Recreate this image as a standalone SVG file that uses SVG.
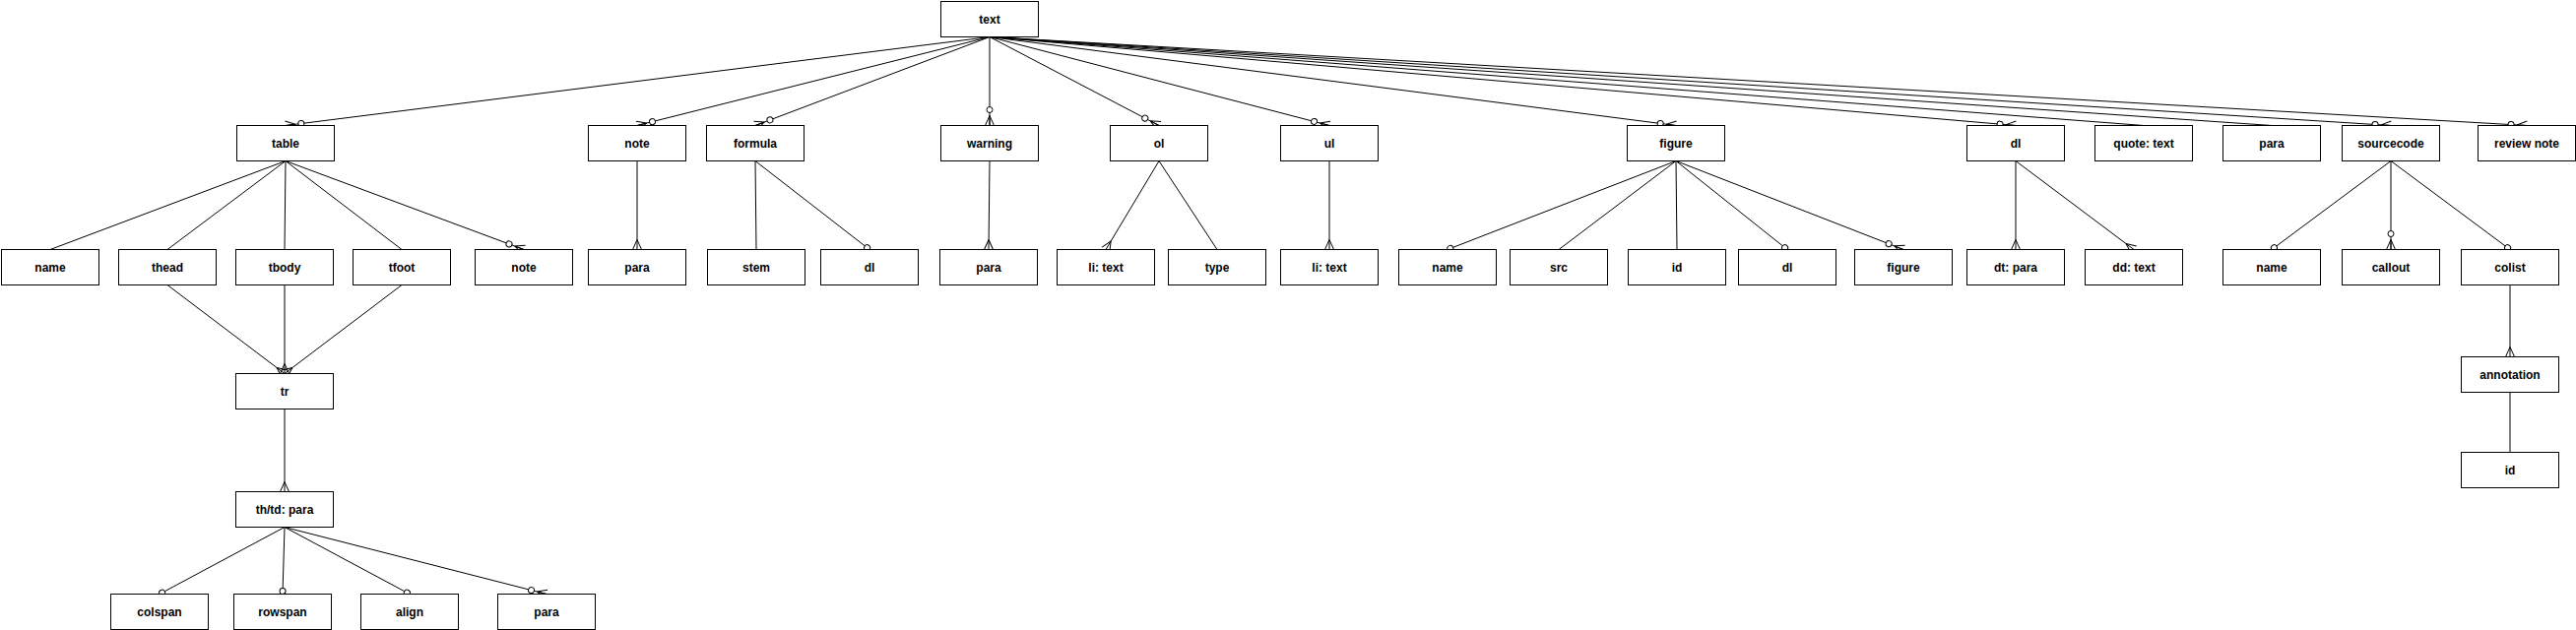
<svg xmlns="http://www.w3.org/2000/svg" width="2616" height="640" viewBox="0 0 2616 640">
<style>
  .box{fill:#fff;stroke:#000;stroke-width:1}
  .lbl{font-family:"Liberation Sans",Arial,Helvetica,sans-serif;font-size:12px;font-weight:bold;text-anchor:middle;fill:#000}
  .e{fill:none;stroke:#000;stroke-width:1}
  .zm{marker-end:url(#zeroMany)}
  .mn{marker-end:url(#many)}
  .ov{marker-end:url(#oval)}
</style>
<defs>
  <marker id="zeroMany" viewBox="-22 -7 24 14" refX="0" refY="0" markerWidth="24" markerHeight="14" markerUnits="userSpaceOnUse" orient="auto" overflow="visible">
    <path d="M-10,0 L0,-4.5 M-10,0 L0,4.5 M-10,0 L0,0" fill="none" stroke="#000" stroke-width="1"/>
    <circle cx="-16" cy="0" r="3" fill="#fff" stroke="#000" stroke-width="1"/>
  </marker>
  <marker id="many" viewBox="-12 -7 14 14" refX="0" refY="0" markerWidth="14" markerHeight="14" markerUnits="userSpaceOnUse" orient="auto" overflow="visible">
    <path d="M-10,0 L0,-4.5 M-10,0 L0,4.5" fill="none" stroke="#000" stroke-width="1"/>
  </marker>
  <marker id="oval" viewBox="-8 -5 10 10" refX="0" refY="0" markerWidth="10" markerHeight="10" markerUnits="userSpaceOnUse" orient="auto" overflow="visible">
    <circle cx="-3" cy="0" r="3" fill="#fff" stroke="#000" stroke-width="1"/>
  </marker>
</defs>
<rect x="0" y="0" width="2616" height="640" fill="#fff"/>
<g transform="translate(0.5,0.5)">
<g id="connectors">
  <path class="e zm" d="M1004.5,37 L289.5,127"/>
  <path class="e zm" d="M1004.5,37 L646.5,127"/>
  <path class="e zm" d="M1004.5,37 L766.5,127"/>
  <path class="e zm" d="M1004.5,37 L1004.5,127"/>
  <path class="e zm" d="M1004.5,37 L1176.5,127"/>
  <path class="e zm" d="M1004.5,37 L1349.5,127"/>
  <path class="e zm" d="M1004.5,37 L1701.5,127"/>
  <path class="e zm" d="M1004.5,37 L2046.5,127"/>
  <path class="e" d="M1004.5,37 L2176.5,127"/>
  <path class="e" d="M1004.5,37 L2306.5,127"/>
  <path class="e zm" d="M1004.5,37 L2427.5,127"/>
  <path class="e zm" d="M1004.5,37 L2565.5,127"/>

  <path class="e" d="M289.5,163 L50.5,253"/>
  <path class="e" d="M289.5,163 L169.5,253"/>
  <path class="e" d="M289.5,163 L288.5,253"/>
  <path class="e" d="M289.5,163 L407.5,253"/>
  <path class="e zm" d="M289.5,163 L531.5,253"/>
  <path class="e mn" d="M169.5,289 L288.5,379"/>
  <path class="e mn" d="M288.5,289 L288.5,379"/>
  <path class="e mn" d="M407.5,289 L288.5,379"/>
  <path class="e mn" d="M288.5,415 L288.5,499"/>
  <path class="e ov" d="M288.5,535 L161.5,603"/>
  <path class="e ov" d="M288.5,535 L286.5,603"/>
  <path class="e ov" d="M288.5,535 L415.5,603"/>
  <path class="e zm" d="M288.5,535 L554.5,603"/>

  <path class="e mn" d="M646.5,163 L646.5,253"/>
  <path class="e" d="M766.5,163 L767.5,253"/>
  <path class="e ov" d="M766.5,163 L882.5,253"/>
  <path class="e mn" d="M1004.5,163 L1003.5,253"/>
  <path class="e mn" d="M1176.5,163 L1122.5,253"/>
  <path class="e" d="M1176.5,163 L1235.5,253"/>
  <path class="e mn" d="M1349.5,163 L1349.5,253"/>
  <path class="e ov" d="M1701.5,163 L1469.5,253"/>
  <path class="e" d="M1701.5,163 L1582.5,253"/>
  <path class="e" d="M1701.5,163 L1702.5,253"/>
  <path class="e ov" d="M1701.5,163 L1814.5,253"/>
  <path class="e zm" d="M1701.5,163 L1932.5,253"/>
  <path class="e mn" d="M2046.5,163 L2046.5,253"/>
  <path class="e mn" d="M2046.5,163 L2166.5,253"/>
  <path class="e ov" d="M2427.5,163 L2306.5,253"/>
  <path class="e zm" d="M2427.5,163 L2427.5,253"/>
  <path class="e ov" d="M2427.5,163 L2548.5,253"/>
  <path class="e mn" d="M2548.5,289 L2548.5,362"/>
  <path class="e" d="M2548.5,398 L2548.5,459"/>
</g>

<g id="n-text"><rect class="box" x="955" y="1" width="99" height="36"/><text class="lbl" x="1004.5" y="23">text</text></g>

<g id="n-table"><rect class="box" x="240" y="127" width="99" height="36"/><text class="lbl" x="289.5" y="149">table</text></g>
<g id="n-note"><rect class="box" x="597" y="127" width="99" height="36"/><text class="lbl" x="646.5" y="149">note</text></g>
<g id="n-formula"><rect class="box" x="717" y="127" width="99" height="36"/><text class="lbl" x="766.5" y="149">formula</text></g>
<g id="n-warning"><rect class="box" x="955" y="127" width="99" height="36"/><text class="lbl" x="1004.5" y="149">warning</text></g>
<g id="n-ol"><rect class="box" x="1127" y="127" width="99" height="36"/><text class="lbl" x="1176.5" y="149">ol</text></g>
<g id="n-ul"><rect class="box" x="1300" y="127" width="99" height="36"/><text class="lbl" x="1349.5" y="149">ul</text></g>
<g id="n-figure"><rect class="box" x="1652" y="127" width="99" height="36"/><text class="lbl" x="1701.5" y="149">figure</text></g>
<g id="n-dl"><rect class="box" x="1997" y="127" width="99" height="36"/><text class="lbl" x="2046.5" y="149">dl</text></g>
<g id="n-quote"><rect class="box" x="2127" y="127" width="99" height="36"/><text class="lbl" x="2176.5" y="149">quote: text</text></g>
<g id="n-para-top"><rect class="box" x="2257" y="127" width="99" height="36"/><text class="lbl" x="2306.5" y="149">para</text></g>
<g id="n-sourcecode"><rect class="box" x="2378" y="127" width="99" height="36"/><text class="lbl" x="2427.5" y="149">sourcecode</text></g>
<g id="n-review-note"><rect class="box" x="2516" y="127" width="99" height="36"/><text class="lbl" x="2565.5" y="149">review note</text></g>

<g id="n-table-name"><rect class="box" x="1" y="253" width="99" height="36"/><text class="lbl" x="50.5" y="275">name</text></g>
<g id="n-thead"><rect class="box" x="120" y="253" width="99" height="36"/><text class="lbl" x="169.5" y="275">thead</text></g>
<g id="n-tbody"><rect class="box" x="239" y="253" width="99" height="36"/><text class="lbl" x="288.5" y="275">tbody</text></g>
<g id="n-tfoot"><rect class="box" x="358" y="253" width="99" height="36"/><text class="lbl" x="407.5" y="275">tfoot</text></g>
<g id="n-table-note"><rect class="box" x="482" y="253" width="99" height="36"/><text class="lbl" x="531.5" y="275">note</text></g>
<g id="n-note-para"><rect class="box" x="597" y="253" width="99" height="36"/><text class="lbl" x="646.5" y="275">para</text></g>
<g id="n-stem"><rect class="box" x="718" y="253" width="99" height="36"/><text class="lbl" x="767.5" y="275">stem</text></g>
<g id="n-formula-dl"><rect class="box" x="833" y="253" width="99" height="36"/><text class="lbl" x="882.5" y="275">dl</text></g>
<g id="n-warning-para"><rect class="box" x="954" y="253" width="99" height="36"/><text class="lbl" x="1003.5" y="275">para</text></g>
<g id="n-ol-li"><rect class="box" x="1073" y="253" width="99" height="36"/><text class="lbl" x="1122.5" y="275">li: text</text></g>
<g id="n-type"><rect class="box" x="1186" y="253" width="99" height="36"/><text class="lbl" x="1235.5" y="275">type</text></g>
<g id="n-ul-li"><rect class="box" x="1300" y="253" width="99" height="36"/><text class="lbl" x="1349.5" y="275">li: text</text></g>
<g id="n-figure-name"><rect class="box" x="1420" y="253" width="99" height="36"/><text class="lbl" x="1469.5" y="275">name</text></g>
<g id="n-src"><rect class="box" x="1533" y="253" width="99" height="36"/><text class="lbl" x="1582.5" y="275">src</text></g>
<g id="n-figure-id"><rect class="box" x="1653" y="253" width="99" height="36"/><text class="lbl" x="1702.5" y="275">id</text></g>
<g id="n-figure-dl"><rect class="box" x="1765" y="253" width="99" height="36"/><text class="lbl" x="1814.5" y="275">dl</text></g>
<g id="n-figure-figure"><rect class="box" x="1883" y="253" width="99" height="36"/><text class="lbl" x="1932.5" y="275">figure</text></g>
<g id="n-dt"><rect class="box" x="1997" y="253" width="99" height="36"/><text class="lbl" x="2046.5" y="275">dt: para</text></g>
<g id="n-dd"><rect class="box" x="2117" y="253" width="99" height="36"/><text class="lbl" x="2166.5" y="275">dd: text</text></g>
<g id="n-source-name"><rect class="box" x="2257" y="253" width="99" height="36"/><text class="lbl" x="2306.5" y="275">name</text></g>
<g id="n-callout"><rect class="box" x="2378" y="253" width="99" height="36"/><text class="lbl" x="2427.5" y="275">callout</text></g>
<g id="n-colist"><rect class="box" x="2499" y="253" width="99" height="36"/><text class="lbl" x="2548.5" y="275">colist</text></g>

<g id="n-tr"><rect class="box" x="239" y="379" width="99" height="36"/><text class="lbl" x="288.5" y="401">tr</text></g>
<g id="n-thtd"><rect class="box" x="239" y="499" width="99" height="36"/><text class="lbl" x="288.5" y="521">th/td: para</text></g>
<g id="n-colspan"><rect class="box" x="112" y="603" width="99" height="36"/><text class="lbl" x="161.5" y="625">colspan</text></g>
<g id="n-rowspan"><rect class="box" x="237" y="603" width="99" height="36"/><text class="lbl" x="286.5" y="625">rowspan</text></g>
<g id="n-align"><rect class="box" x="366" y="603" width="99" height="36"/><text class="lbl" x="415.5" y="625">align</text></g>
<g id="n-cell-para"><rect class="box" x="505" y="603" width="99" height="36"/><text class="lbl" x="554.5" y="625">para</text></g>

<g id="n-annotation"><rect class="box" x="2499" y="362" width="99" height="36"/><text class="lbl" x="2548.5" y="384">annotation</text></g>
<g id="n-annot-id"><rect class="box" x="2499" y="459" width="99" height="36"/><text class="lbl" x="2548.5" y="481">id</text></g>
</g>
</svg>
